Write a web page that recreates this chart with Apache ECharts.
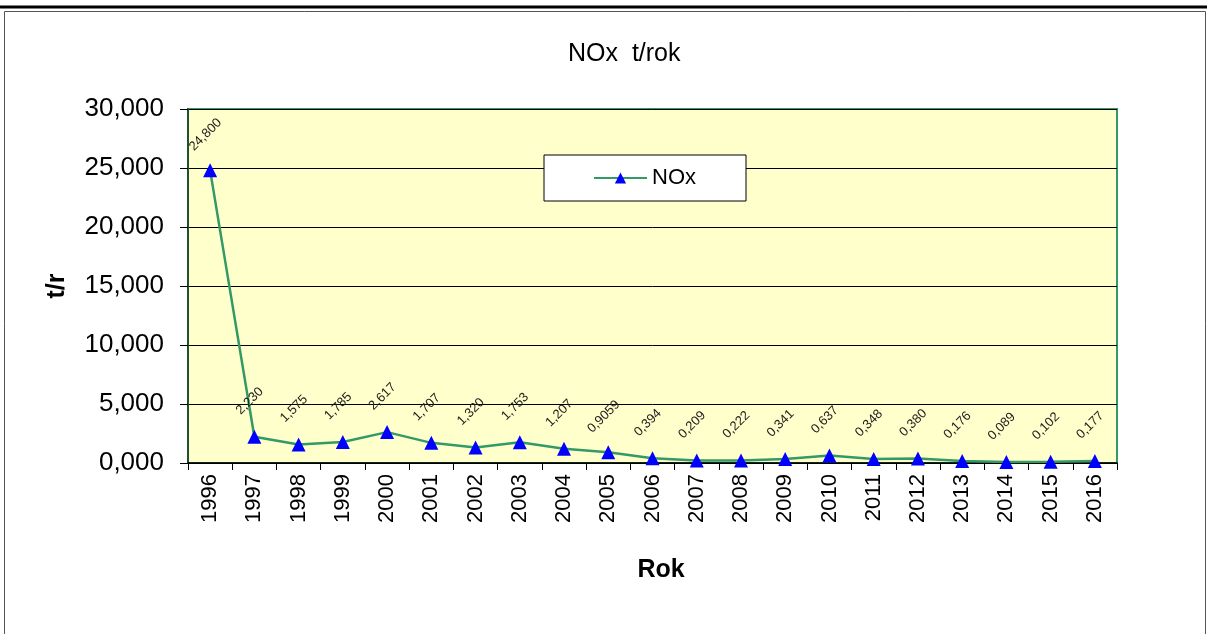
<!DOCTYPE html>
<html><head><meta charset="utf-8">
<script src="https://cdn.jsdelivr.net/npm/echarts@6/dist/echarts.min.js"></script>
<style>html,body{margin:0;padding:0;background:#fff;}#c{width:1211px;height:634px;}</style>
</head><body><div id="c"></div>
<script>
var years = ['1996','1997','1998','1999','2000','2001','2002','2003','2004','2005','2006','2007','2008','2009','2010','2011','2012','2013','2014','2015','2016'];
var noxValues = [24.800, 2.230, 1.575, 1.785, 2.617, 1.707, 1.320, 1.753, 1.207, 0.9059, 0.394, 0.209, 0.222, 0.341, 0.637, 0.348, 0.380, 0.176, 0.089, 0.102, 0.177];
var yTicks = [0, 5, 10, 15, 20, 25, 30];

function fmtVal(v){
  var s = String(v);
  var parts = s.split('.');
  var dec = parts[1] || '';
  while (dec.length < 3) dec += '0';
  return parts[0] + ',' + dec;
}

var chart = echarts.init(document.getElementById('c'));
chart.setOption({
  animation: false,
  backgroundColor: '#ffffff',
  graphic: [
    {type:'line', shape:{x1:0,y1:7,x2:1207,y2:7}, style:{stroke:'#000',lineWidth:3}, silent:true},
    {type:'rect', shape:{x:4.5,y:11.5,width:1201,height:640}, style:{fill:null,stroke:'#555',lineWidth:1}, silent:true}
  ],
  title: {
    text: 'NOx  t/rok', left: 563, top: 37,
    textStyle: {fontFamily: 'Liberation Sans, Arial', fontSize: 25, fontWeight: 'normal', color: '#000'}
  },
  legend: {
    left: 544, top: 155,
    data: ['NOx'],
    backgroundColor: '#ffffff', borderColor: '#000', borderWidth: 1,
    padding: [12, 50, 12, 49],
    itemWidth: 53, itemHeight: 14, itemGap: 6,
    textStyle: {fontFamily: 'Liberation Sans, Arial', fontSize: 22, color: '#000'}
  },
  grid: {
    left: 188, right: 94, top: 109, bottom: 171,
    show: true, backgroundColor: '#FFFFCC', borderColor: '#339966', borderWidth: 2
  },
  xAxis: {
    type: 'category', data: years, boundaryGap: true,
    name: 'Rok', nameLocation: 'middle', nameGap: 95,
    nameTextStyle: {fontFamily: 'Liberation Sans, Arial', fontSize: 25, fontWeight: 'bold', color: '#000', padding: [0, 0, 0, 17]},
    axisLine: {lineStyle: {color: '#000', width: 1.5}},
    axisTick: {show: true, alignWithLabel: false, length: 7, lineStyle: {color: '#000', width: 1}},
    axisLabel: {rotate: 90, margin: 11, fontFamily: 'Liberation Sans, Arial', fontSize: 22, color: '#000', interval: 0},
    splitLine: {show: false}
  },
  yAxis: {
    type: 'value', min: 0, max: 30, interval: 5,
    name: 't/r', nameLocation: 'middle', nameGap: 118,
    nameTextStyle: {fontFamily: 'Liberation Sans, Arial', fontSize: 25, fontWeight: 'bold', color: '#000', padding: [0, 0, 0, 0]},
    axisLine: {show: true, lineStyle: {color: '#1f4f35', width: 2}},
    axisTick: {show: true, length: 8, lineStyle: {color: '#000', width: 1}},
    axisLabel: {margin: 24, fontFamily: 'Liberation Sans, Arial', fontSize: 26, color: '#000',
      formatter: function(v){ return yTicks.indexOf(v) >= 0 ? v.toFixed(3).replace('.', ',') : ''; }},
    splitLine: {show: true, lineStyle: {color: '#000', width: 1}}
  },
  series: [{
    name: 'NOx', type: 'line', data: noxValues,
    symbol: 'triangle', symbolSize: 14,
    lineStyle: {color: '#339966', width: 2.5},
    itemStyle: {color: '#0000FF'},
    label: {
      show: true, position: 'top', distance: 24, rotate: 45,
      fontFamily: 'Liberation Sans, Arial', fontSize: 13, color: '#222',
      formatter: function(p){ return fmtVal(p.value); }
    }
  }]
});
</script></body></html>
